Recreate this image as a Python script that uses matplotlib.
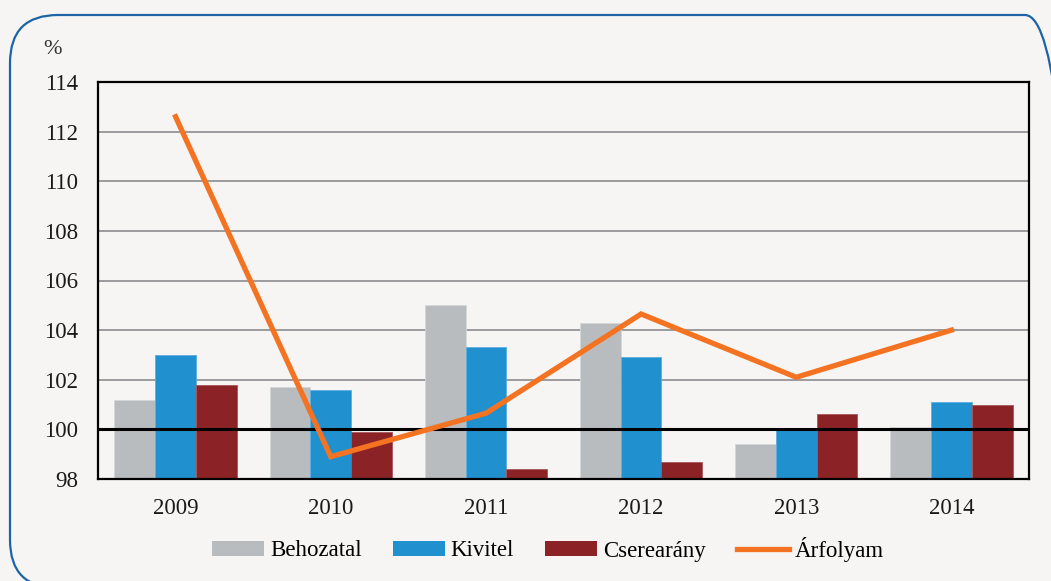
import matplotlib
matplotlib.use("Agg")
import matplotlib.pyplot as plt
import numpy as np
from matplotlib.patches import FancyBboxPatch, Patch
from matplotlib.lines import Line2D

years = ["2009", "2010", "2011", "2012", "2013", "2014"]
behozatal = [101.2, 101.7, 105.0, 104.3, 99.4, 100.1]
kivitel = [103.0, 101.6, 103.3, 102.9, 100.0, 101.1]
cserearany = [101.8, 99.9, 98.4, 98.7, 100.6, 101.0]
arfolyam = [112.6, 98.9, 100.65, 104.65, 102.1, 104.0]

bg = "#f7f5f3"
c_grey = "#b8bcbf"
c_blue = "#2190cf"
c_red = "#8b2326"
c_orange = "#f47322"

plt.rcParams["font.family"] = ["Liberation Serif", "DejaVu Serif"]

fig = plt.figure(figsize=(10.51, 5.81), dpi=100, facecolor=bg)

# rounded frame (inches, partly outside the canvas on the right and bottom)
frame = FancyBboxPatch((0.10, -0.07), 10.63, 5.73,
                       boxstyle="round,pad=0,rounding_size=0.48",
                       transform=fig.dpi_scale_trans, facecolor="none",
                       edgecolor="#1d64a6", linewidth=1.6)
fig.patches.append(frame)

ax = fig.add_axes([98 / 1051, 1 - 479 / 581, (1029 - 98) / 1051, (479 - 82) / 581])
ax.set_facecolor(bg)

x = np.arange(len(years))
w = 0.263
base = 98
ax.bar(x - w, np.array(behozatal) - base, w, bottom=base, color=c_grey,
       edgecolor="#d4d7d9", linewidth=0.6, zorder=2)
ax.bar(x, np.array(kivitel) - base, w, bottom=base, color=c_blue,
       edgecolor="#5aaee0", linewidth=0.6, zorder=2)
ax.bar(x + w, np.array(cserearany) - base, w, bottom=base, color=c_red,
       edgecolor="#a8555a", linewidth=0.6, zorder=2)

ax.axhline(100, color="black", linewidth=2.2, xmax=0.997, zorder=3)
ax.plot(x, arfolyam, color=c_orange, linewidth=3.8, zorder=4,
        solid_joinstyle="miter")

ax.set_xlim(-0.5, len(years) - 0.5)
ax.set_ylim(98, 114)
ax.set_yticks(np.arange(98, 115, 2))
ax.set_xticks(x)
ax.set_xticklabels(years)
ax.tick_params(length=0, labelsize=16.5, colors="#1a1a1a")
ax.tick_params(axis="x", pad=14)
ax.tick_params(axis="y", pad=14.5)
ax.yaxis.grid(True, color="#8c8c90", linewidth=1.2, zorder=0)
ax.set_axisbelow(True)
for s in ax.spines.values():
    s.set_color("black")
    s.set_linewidth(1.6)

fig.text(43 / 1051, 1 - 50 / 581, "%", fontsize=16, color="#333333",
         ha="left", va="center")

handles = [
    Patch(facecolor=c_grey, edgecolor="none"),
    Patch(facecolor=c_blue, edgecolor="none"),
    Patch(facecolor=c_red, edgecolor="none"),
    Line2D([0], [0], color=c_orange, linewidth=3.8),
]
labels = ["Behozatal", "Kivitel", "Cserearány", "Árfolyam"]
fig.legend(handles, labels, loc="center", bbox_to_anchor=(548 / 1051, 1 - 549 / 581),
           ncol=4, frameon=False, fontsize=16.5, handlelength=2.27,
           handleheight=0.6, handletextpad=0.26, columnspacing=1.35)

fig.savefig("out.png", dpi=100, facecolor=bg)
